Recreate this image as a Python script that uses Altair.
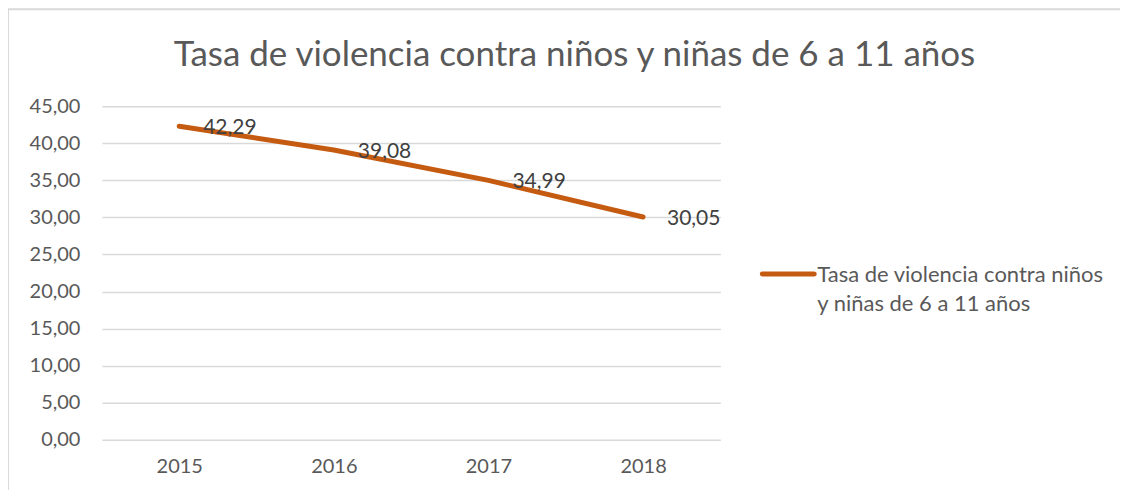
import altair as alt
import pandas as pd

years = ["2015", "2016", "2017", "2018"]
values = [42.29, 39.08, 34.99, 30.05]
series_name = "Tasa de violencia contra niños y niñas de 6 a 11 años"
legend_lines = "Tasa de violencia contra niños|y niñas de 6 a 11 años"
title_text = "Tasa de violencia contra niños  y niñas de 6 a 11 años"

df = pd.DataFrame({"year": years, "value": values, "series": [series_name] * len(years)})
meta = pd.DataFrame({"title": [title_text], "legend": [legend_lines]})

FONT = "Lato"
TXT = "#595959"
LINE = "#C55A11"

x = alt.X("year:N", title=None,
          scale=alt.Scale(paddingInner=0, paddingOuter=0.5),
          axis=alt.Axis(labelAngle=0, labelFontSize=20, labelColor=TXT, labelFont=FONT,
                        ticks=False, domain=False, labelPadding=17, grid=False))
y = alt.Y("value:Q", title=None,
          scale=alt.Scale(domain=[0, 45], nice=False),
          axis=alt.Axis(values=list(range(0, 46, 5)), labelFontSize=20, labelColor=TXT,
                        labelFont=FONT, ticks=False, domain=False, labelPadding=22,
                        gridColor="#d9d9d9", gridWidth=1.5,
                        labelExpr="replace(format(datum.value, '.2f'), '.', ',')"))

line = alt.Chart(df).mark_line(strokeWidth=5, strokeCap="round").encode(
    x=x, y=y,
    color=alt.Color("series:N", scale=alt.Scale(range=[LINE]), legend=None)
)

labels = alt.Chart(df).transform_calculate(
    lab="replace(format(datum.value, '.2f'), '.', ',')"
).mark_text(align="left", baseline="middle", dx=24, dy=2, fontSize=21, color="#404040", font=FONT).encode(
    x=x, y=y, text="lab:N"
)

title = alt.Chart(meta).mark_text(align="center", baseline="middle", fontSize=35, color=TXT, font=FONT).encode(
    x=alt.value(473), y=alt.value(-51), text="title:N"
)

legend_sym = alt.Chart(meta).mark_rule(color=LINE, strokeWidth=5, strokeCap="round").encode(
    x=alt.value(661), x2=alt.value(713), y=alt.value(168)
)
legend_txt = alt.Chart(meta).mark_text(align="left", baseline="alphabetic", fontSize=22, color=TXT,
                                       font=FONT, lineBreak="|", lineHeight=29).encode(
    x=alt.value(716), y=alt.value(176), text="legend:N"
)

border_top = alt.Chart(meta).mark_rule(color="#d9d9d9", strokeWidth=2).encode(
    x=alt.value(-94), x2=alt.value(1040), y=alt.value(-97)
)
border_left = alt.Chart(meta).mark_rule(color="#d9d9d9", strokeWidth=2).encode(
    x=alt.value(-94), y=alt.value(-97), y2=alt.value(400)
)

chart = alt.layer(border_top, border_left, line, labels, title, legend_sym, legend_txt).properties(
    width=619, height=334,
    autosize=alt.AutoSizeParams(type="none"),
    padding={"left": 94, "top": 98, "right": 400, "bottom": 50},
).configure_view(stroke=None)

chart.save("out.html", embed_options={"renderer": "svg", "actions": False})
